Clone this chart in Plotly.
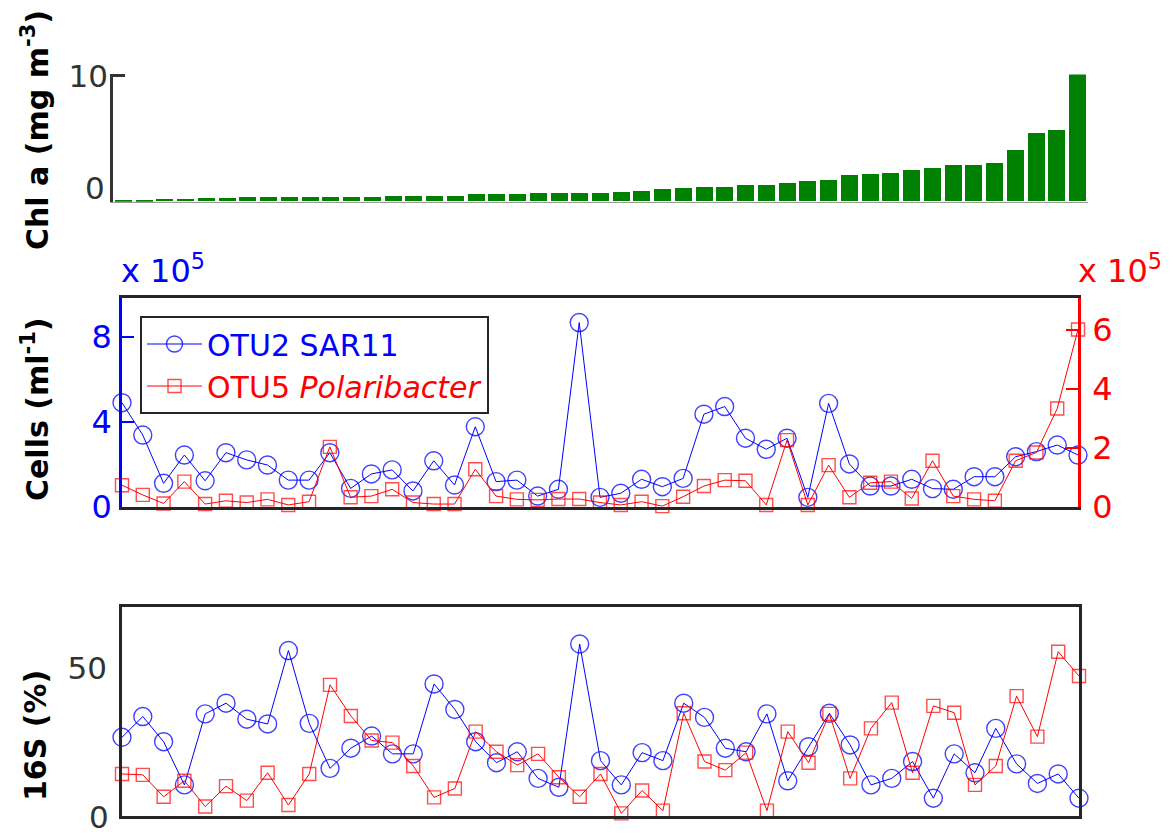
import plotly.graph_objects as go

# page body has an 8px margin: lay out in screen pixels and compensate
OFF = 8
W, H = 1173 - OFF, 835 - OFF

# ---------------- data ----------------
samples = list(range(1, 48))

chl_a = [0.10, 0.13, 0.18, 0.20, 0.29, 0.29, 0.32, 0.37, 0.37, 0.37,
         0.37, 0.37, 0.37, 0.40, 0.40, 0.40, 0.45, 0.56, 0.56, 0.60,
         0.63, 0.66, 0.66, 0.68, 0.74, 0.85, 1.00, 1.08, 1.14, 1.14,
         1.30, 1.30, 1.48, 1.59, 1.69, 2.09, 2.17, 2.28, 2.51, 2.62,
         2.88, 2.91, 3.02, 4.05, 5.42, 5.69, 10.1]

# cells per ml, in units of 10^5
sar11_cells = [4.89, 3.37, 1.10, 2.43, 1.22, 2.54, 2.20, 1.96, 1.25, 1.25,
               2.54, 0.86, 1.54, 1.73, 0.74, 2.16, 1.02, 3.76, 1.18, 1.25,
               0.50, 0.82, 8.66, 0.44, 0.63, 1.29, 0.94, 1.33, 4.35, 4.71,
               3.22, 2.70, 3.22, 0.44, 4.86, 2.01, 0.97, 0.97, 1.29, 0.85,
               0.82, 1.41, 1.41, 2.35, 2.59, 2.90, 2.43]

polar_cells = [0.73, 0.40, 0.11, 0.85, 0.09, 0.20, 0.14, 0.25, 0.06, 0.17,
               2.03, 0.32, 0.36, 0.59, 0.14, 0.09, 0.09, 1.27, 0.36, 0.25,
               0.23, 0.26, 0.26, 0.14, 0.06, 0.17, 0.02, 0.34, 0.70, 0.90,
               0.88, 0.06, 2.26, 0.06, 1.41, 0.32, 0.81, 0.85, 0.28, 1.56,
               0.36, 0.25, 0.20, 1.56, 1.84, 3.33, 6.01]

# 16S relative abundance (%)
sar11_16s = [26.6, 33.6, 25.1, 10.5, 34.5, 38.1, 32.7, 31.1, 55.9, 31.3,
             16.1, 22.9, 27.0, 21.0, 21.0, 44.6, 36.0, 25.1, 18.0, 21.7,
             12.7, 9.7, 58.1, 18.7, 10.5, 21.4, 18.7, 38.1, 33.3, 22.9,
             21.7, 34.5, 11.9, 23.4, 34.7, 24.0, 10.5, 12.7, 18.4, 6.0,
             21.0, 14.6, 29.6, 17.6, 11.0, 14.2, 6.0]

polar_16s = [14.2, 13.9, 6.5, 11.9, 3.2, 10.1, 5.2, 14.6, 3.7, 14.2,
             44.3, 33.8, 25.5, 24.8, 16.9, 6.3, 9.3, 28.5, 21.7, 17.2,
             21.0, 13.1, 6.5, 14.2, 0.9, 8.6, 1.8, 34.7, 18.4, 15.5,
             21.4, 1.8, 28.5, 18.0, 34.5, 12.7, 29.6, 38.3, 14.6, 37.2,
             34.9, 10.5, 16.9, 40.5, 26.8, 55.5, 47.3]

chl_ticks = [0, 10]
cells_left_ticks = [0, 4, 8]
cells_right_ticks = [0, 2, 4, 6]
pct_ticks = [0, 50]

# ---------------- styling ----------------
FONT = "DejaVu Sans"
DARK = "#262626"
BLUE = "rgb(0,0,255)"
RED = "rgb(255,0,0)"
BLUE_M = "rgba(0,0,255,0.75)"
RED_M = "rgba(255,0,0,0.7)"


def px_x(p):
    return (p - OFF) / W


def px_y(p):
    return 1 - (p - OFF) / H


fig = go.Figure()

# top: Chl a bars
fig.add_trace(go.Bar(x=samples, y=chl_a, marker=dict(color="rgb(0,128,0)", line=dict(width=0)),
                     width=0.82, xaxis="x", yaxis="y", showlegend=False))

# middle: cells
fig.add_trace(go.Scatter(x=samples, y=sar11_cells, mode="lines+markers", xaxis="x2", yaxis="y2",
                         name="<span style='color:blue'>OTU2 SAR11</span>",
                         line=dict(color=BLUE, width=1),
                         marker=dict(symbol="circle-open", size=18, color=BLUE_M, line=dict(width=1.4)),
                         cliponaxis=False))
fig.add_trace(go.Scatter(x=samples, y=polar_cells, mode="lines+markers", xaxis="x2", yaxis="y3",
                         name="<span style='color:red'>OTU5 <i>Polaribacter</i></span>",
                         line=dict(color=RED, width=1),
                         marker=dict(symbol="square-open", size=13, color=RED_M, line=dict(width=1.4)),
                         cliponaxis=False))

# bottom: 16S %
fig.add_trace(go.Scatter(x=samples, y=sar11_16s, mode="lines+markers", xaxis="x3", yaxis="y4",
                         line=dict(color=BLUE, width=1), showlegend=False,
                         marker=dict(symbol="circle-open", size=18, color=BLUE_M, line=dict(width=1.4)),
                         cliponaxis=False))
fig.add_trace(go.Scatter(x=samples, y=polar_16s, mode="lines+markers", xaxis="x3", yaxis="y4",
                         line=dict(color=RED, width=1), showlegend=False,
                         marker=dict(symbol="square-open", size=13, color=RED_M, line=dict(width=1.4)),
                         cliponaxis=False))

tickfont_dark = dict(family=FONT, size=31, color="#333333")

fig.update_layout(
    width=W, height=H,
    margin=dict(l=0, r=0, t=0, b=0, autoexpand=False),
    paper_bgcolor="white", plot_bgcolor="white",
    font=dict(family=FONT),
    bargap=0,
    # top panel
    xaxis=dict(domain=[px_x(113), px_x(1088)], range=[0.5, 47.5], showline=True,
               linecolor="#999999", linewidth=1, showticklabels=False, ticks="",
               showgrid=False, zeroline=False, anchor="y", automargin=False),
    yaxis=dict(domain=[px_y(201.7), px_y(74.4)], range=[0, 10.1], showline=True,
               linecolor="#333333", linewidth=2.5, ticks="inside", ticklen=12, tickwidth=2.5,
               tickcolor="#333333", tickvals=chl_ticks, ticktext=["", "10"],
               tickfont=tickfont_dark, ticklabelstandoff=-4,
               showgrid=False, zeroline=False, anchor="x", automargin=False),
    # middle panel
    xaxis2=dict(domain=[px_x(122), px_x(1078)], range=[1, 47], showline=True, mirror=True,
                linecolor=DARK, linewidth=2.5, showticklabels=False, ticks="",
                showgrid=False, zeroline=False, anchor="y2", automargin=False),
    yaxis2=dict(domain=[px_y(506.7), px_y(298.3)], range=[0, 9.8], showline=True,
                linecolor=BLUE, linewidth=2.5, ticks="inside", ticklen=12, tickwidth=2,
                tickcolor=BLUE, tickvals=cells_left_ticks,
                tickfont=dict(family=FONT, size=32, color=BLUE), ticklabelstandoff=1,
                ticklabeloverflow="allow",
                showgrid=False, zeroline=False, anchor="x2", side="left", automargin=False),
    yaxis3=dict(range=[0, 7.07], overlaying="y2", side="right", showline=True,
                linecolor=RED, linewidth=2.5, ticks="inside", ticklen=12, tickwidth=2,
                tickcolor=RED, tickvals=cells_right_ticks,
                tickfont=dict(family=FONT, size=32, color=RED), ticklabelstandoff=5,
                ticklabeloverflow="allow",
                showgrid=False, zeroline=False, anchor="x2", automargin=False),
    # bottom panel
    xaxis3=dict(domain=[px_x(122), px_x(1079)], range=[1, 47], showline=True, mirror=True,
                linecolor=DARK, linewidth=2.5, showticklabels=False, ticks="",
                showgrid=False, zeroline=False, anchor="y4", automargin=False),
    yaxis4=dict(domain=[px_y(816), px_y(607.3)], range=[0, 70.5], showline=True, mirror=True,
                linecolor=DARK, linewidth=2.5, ticks="", tickvals=pct_ticks, ticktext=["", "50"],
                tickfont=tickfont_dark, ticklabelstandoff=6,
                showgrid=False, zeroline=False, anchor="x3", automargin=False),
    legend=dict(x=px_x(140), y=px_y(316), xanchor="left", yanchor="top",
                bgcolor="white", bordercolor=DARK, borderwidth=2,
                font=dict(family=FONT, size=30), itemwidth=55,
                tracegroupgap=0),
)

ann = []
# y-axis titles
title_font = dict(family=FONT, size=30, color="black")
ann.append(dict(text="<b>Chl a (mg m<sup>-3</sup>)</b>", x=px_x(35), y=px_y(130), xref="paper", yref="paper",
                textangle=-90, showarrow=False, xanchor="center", yanchor="middle", font=title_font))
ann.append(dict(text="<b>Cells (ml<sup>-1</sup>)</b>", x=px_x(35), y=px_y(409), xref="paper", yref="paper",
                textangle=-90, showarrow=False, xanchor="center", yanchor="middle", font=title_font))
ann.append(dict(text="<b>16S (%)</b>", x=px_x(35), y=px_y(736), xref="paper", yref="paper",
                textangle=-90, showarrow=False, xanchor="center", yanchor="middle", font=title_font))
# "0" labels of the top and bottom panels
ann.append(dict(text="0", x=px_x(95), y=px_y(188), xref="paper", yref="paper", showarrow=False,
                xanchor="center", yanchor="middle", font=tickfont_dark))
ann.append(dict(text="0", x=px_x(99), y=px_y(817), xref="paper", yref="paper", showarrow=False,
                xanchor="center", yanchor="middle", font=tickfont_dark))
# exponent labels
ann.append(dict(text="x 10<sup>5</sup>", x=px_x(119), y=px_y(292), xref="paper", yref="paper",
                showarrow=False, xanchor="left", yanchor="bottom",
                font=dict(family=FONT, size=32, color=BLUE)))
ann.append(dict(text="x 10<sup>5</sup>", x=px_x(1076), y=px_y(292), xref="paper", yref="paper",
                showarrow=False, xanchor="left", yanchor="bottom",
                font=dict(family=FONT, size=32, color=RED)))
fig.update_layout(annotations=ann)

fig.write_html("out.html")
